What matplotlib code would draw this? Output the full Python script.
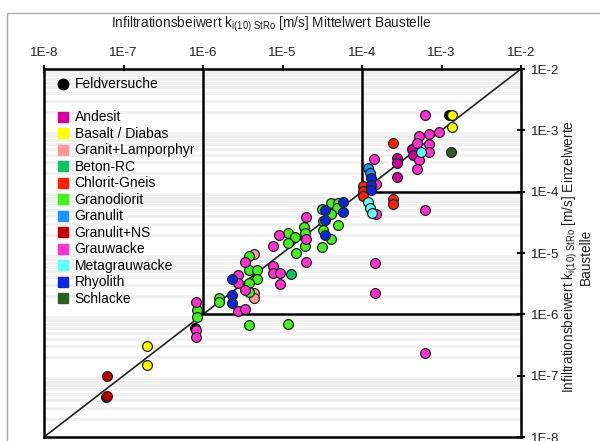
import matplotlib
matplotlib.use("Agg")
import matplotlib.pyplot as plt
from matplotlib.lines import Line2D
from matplotlib.patches import Rectangle

plt.rcParams['font.family'] = ['Liberation Sans', 'DejaVu Sans']
plt.rcParams['mathtext.fontset'] = 'custom'
plt.rcParams['mathtext.rm'] = 'Liberation Sans'
plt.rcParams['mathtext.it'] = 'Liberation Sans'

# k-Werte: x = Mittelwert Baustelle, y = Einzelwerte
feld_x = [6.0e-8, 7.9e-7, 1.24e-3]
feld_y = [4.5e-8, 6.0e-7, 1.8e-3]

andesit_x = [2.75e-4, 2.75e-4, 2.75e-4, 4.3e-4, 4.4e-4]
andesit_y = [3.5e-4, 2.9e-4, 1.73e-4, 4.95e-4, 3.95e-4]

basalt_x = [2.0e-7, 2.0e-7, 1.36e-3, 1.36e-3]
basalt_y = [3.0e-7, 1.5e-7, 1.8e-3, 1.13e-3]

granit_x = [4.4e-6, 4.4e-6, 4.4e-6]
granit_y = [9.6e-6, 2.2e-6, 1.84e-6]

beton_x = [1.28e-5]
beton_y = [4.5e-6]

chlorit_x = [1.03e-4, 1.03e-4, 1.03e-4, 2.45e-4, 2.45e-4, 2.45e-4]
chlorit_y = [1.23e-4, 1.02e-4, 8.5e-5, 6.2e-4, 7.6e-5, 6.3e-5]

granodiorit_x = [8.4e-7, 8.4e-7, 1.6e-6, 1.6e-6, 3.8e-6, 3.8e-6, 4.8e-6, 4.8e-6,
                 3.8e-6, 3.8e-6, 3.8e-6, 1.17e-5, 1.17e-5, 1.44e-5, 1.17e-5,
                 1.86e-5, 1.92e-5, 1.92e-5, 1.47e-5, 3.14e-5, 4.07e-5, 5.0e-5,
                 4.9e-5, 4.07e-5, 3.23e-5, 5.0e-5, 3.23e-5, 4.07e-5, 3.14e-5]
granodiorit_y = [1.17e-6, 9.0e-7, 1.84e-6, 1.58e-6, 8.9e-6, 5.3e-6, 5.3e-6, 3.75e-6,
                 3.2e-6, 2.3e-6, 6.7e-7, 6.9e-7, 2.1e-5, 1.8e-5, 1.45e-5,
                 2.65e-5, 2.1e-5, 1.3e-5, 1.0e-5, 5.2e-5, 6.5e-5, 6.5e-5,
                 5.4e-5, 4.3e-5, 3.3e-5, 2.85e-5, 2.36e-5, 1.7e-5, 1.25e-5]

granulit_x = [1.19e-4, 1.26e-4]
granulit_y = [2.43e-4, 2.0e-4]

granulit_ns_x = [6.2e-8, 6.2e-8]
granulit_ns_y = [1.0e-7, 4.6e-8]

grauwacke_x = [8.2e-7, 8.2e-7, 8.2e-7, 2.75e-6, 2.75e-6, 2.75e-6, 3.4e-6, 3.4e-6,
               3.4e-6, 7.6e-6, 7.6e-6, 9.3e-6, 9.3e-6, 9.0e-6, 7.6e-6, 2.0e-5,
               2.0e-5, 2.0e-5, 1.42e-4, 1.5e-4, 1.5e-4, 1.46e-4, 1.46e-4, 6.2e-4,
               6.2e-4, 6.2e-4, 9.3e-4, 7.0e-4, 5.2e-4, 7.0e-4, 4.9e-4, 7.0e-4,
               5.2e-4, 4.9e-4]
grauwacke_y = [1.58e-6, 5.5e-7, 4.25e-7, 4.4e-6, 3.2e-6, 1.13e-6, 1.22e-6, 7.1e-6,
               2.5e-6, 6.1e-6, 4.7e-6, 4.7e-6, 3.1e-6, 2.0e-5, 1.3e-5, 3.85e-5,
               1.7e-5, 7.1e-6, 3.4e-4, 1.33e-4, 4.3e-5, 6.8e-6, 2.2e-6, 5.0e-5,
               2.3e-7, 1.8e-3, 9.4e-4, 8.7e-4, 8.1e-4, 6.0e-4, 6.2e-4, 4.4e-4,
               3.3e-4, 2.3e-4]

meta_x = [1.19e-4, 1.26e-4, 1.34e-4, 5.5e-4]
meta_y = [6.8e-5, 5.4e-5, 4.5e-5, 4.4e-4]

rhyolith_x = [2.3e-6, 2.3e-6, 2.3e-6, 3.43e-5, 3.43e-5, 3.43e-5, 5.8e-5, 5.8e-5,
              1.3e-4, 1.3e-4, 1.3e-4]
rhyolith_y = [3.75e-6, 2.06e-6, 1.52e-6, 5.0e-5, 3.44e-5, 2.0e-5, 6.8e-5, 4.65e-5,
              1.67e-4, 1.28e-4, 1.06e-4]

schlacke_x = [1.32e-3]
schlacke_y = [4.4e-4]

groups = [
    ("Andesit", "#cc0099", andesit_x, andesit_y),
    ("Basalt / Diabas", "#ffff00", basalt_x, basalt_y),
    ("Granit+Lamporphyr", "#ff9a96", granit_x, granit_y),
    ("Beton-RC", "#11c060", beton_x, beton_y),
    ("Chlorit-Gneis", "#ff2200", chlorit_x, chlorit_y),
    ("Granodiorit", "#44f020", granodiorit_x, granodiorit_y),
    ("Granulit", "#1e96ff", granulit_x, granulit_y),
    ("Granulit+NS", "#c00000", granulit_ns_x, granulit_ns_y),
    ("Grauwacke", "#ff33cc", grauwacke_x, grauwacke_y),
    ("Metagrauwacke", "#66ffff", meta_x, meta_y),
    ("Rhyolith", "#0a28d8", rhyolith_x, rhyolith_y),
    ("Schlacke", "#2f5f1f", schlacke_x, schlacke_y),
]

fig = plt.figure(figsize=(6.0, 4.41), dpi=100)
ax = fig.add_axes([44/600, 1-437/441, 477/600, 368/441])
ax.set_xscale('log')
ax.set_yscale('log')
ax.set_xlim(1e-8, 1e-2)
ax.set_ylim(1e-8, 1e-2)

# faint horizontal bands
ax.yaxis.grid(True, which='minor', color='#f0f0f0', lw=2.0)
ax.set_axisbelow(True)

# 1:1 line and thresholds
ax.plot([1e-8, 1e-2], [1e-8, 1e-2], color='#222222', lw=1.2, zorder=2)
ax.plot([1e-6, 1e-6, 1e-2], [1e-2, 1e-6, 1e-6], color='black', lw=1.8, zorder=2)
ax.plot([1e-4, 1e-4, 1e-2], [1e-2, 1e-4, 1e-4], color='black', lw=1.8, zorder=2)

ax.scatter(feld_x, feld_y, s=50, c='black', edgecolors='black', lw=0.8, zorder=3)
for name, col, xs, ys in groups:
    ax.scatter(xs, ys, s=50, c=col, edgecolors='#222222', lw=0.9, zorder=4)

ax.xaxis.tick_top()
ax.yaxis.tick_right()
ax.set_xticks([1e-8, 1e-7, 1e-6, 1e-5, 1e-4, 1e-3, 1e-2])
ax.set_yticks([1e-8, 1e-7, 1e-6, 1e-5, 1e-4, 1e-3, 1e-2])
labs = ['1E-8', '1E-7', '1E-6', '1E-5', '1E-4', '1E-3', '1E-2']
ax.set_xticklabels(labs)
ax.set_yticklabels(labs)
ax.tick_params(which='major', direction='inout', length=6, width=1.5, labelsize=9.6,
               pad=4, colors='black', labelcolor='#222222')
ax.tick_params(which='minor', length=0)
for s in ax.spines.values():
    s.set_linewidth(1.8)
    s.set_color('black')

handles = [Line2D([], [], marker='o', ls='', color='black', markersize=7.5),
           Line2D([], [], ls='', marker='')]
labels = ['Feldversuche', ' ']
for name, col, xs, ys in groups:
    handles.append(Line2D([], [], marker='s', ls='', color=col, markersize=7))
    labels.append(name)
ax.legend(handles, labels, loc='upper left', bbox_to_anchor=(0.028, 0.977),
          frameon=False, fontsize=10, handlelength=0.8, handletextpad=0.45,
          labelspacing=0.18, borderpad=0, borderaxespad=0)

kk = r'k$_{\mathrm{i(10)\ StRo}}$'
fig.text(271/600, 1-24/441, 'Infiltrationsbeiwert ' + kk + ' [m/s] Mittelwert Baustelle',
         ha='center', va='center', fontsize=9.8, color='#222222')
fig.text(577/600, 1-257/441, 'Infiltrationsbeiwert ' + kk + ' [m/s] Einzelwerte\nBaustelle',
         ha='center', va='center', rotation=90, fontsize=9.8, color='#222222',
         multialignment='center', linespacing=0.9)

fig.patches.append(Rectangle((7/600, -0.1), 1.2, 1 - 13/441 + 0.1, transform=fig.transFigure,
                             fill=False, edgecolor='#aaaaaa', lw=1.0))

fig.savefig('out.png', dpi=100)
